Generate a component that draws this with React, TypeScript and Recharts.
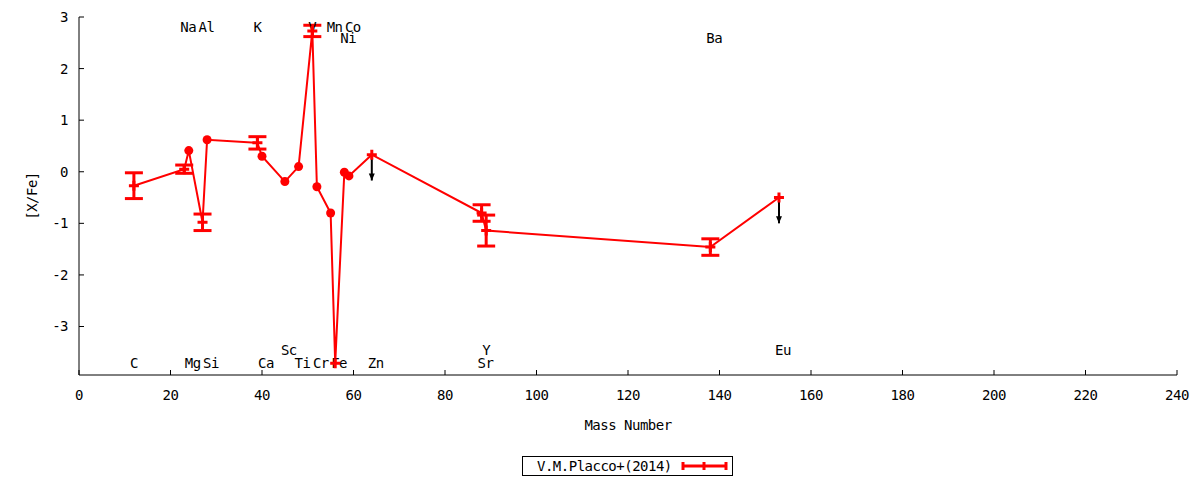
import React from 'react';
import {
  ComposedChart,
  Line,
  Scatter,
  ErrorBar,
  XAxis,
  YAxis,
} from 'recharts';

const RED = '#ff0000';
const FONT = '"DejaVu Sans Mono", monospace';

// abundance pattern, ordered by mass number
const elements = ['C', 'Na', 'Mg', 'Al', 'Si', 'K', 'Ca', 'Sc', 'Ti', 'V', 'Cr', 'Mn', 'Fe', 'Ni', 'Co', 'Zn', 'Sr', 'Y', 'Ba', 'Eu'];
const massNumbers = [12, 23, 24, 27, 28, 39, 40, 45, 48, 51, 52, 55, 56, 58, 59, 64, 88, 89, 138, 153];
const xFe = [-0.27, 0.05, 0.41, -0.98, 0.62, 0.56, 0.3, -0.19, 0.1, 2.73, -0.29, -0.8, -3.71, -0.01, -0.08, 0.33, -0.8, -1.14, -1.46, -0.5];
const xFeErr = [0.25, 0.08, null, 0.16, null, 0.12, null, null, null, 0.11, null, null, null, null, null, null, 0.16, 0.3, 0.16, null];
const plusMarker = [true, true, false, true, false, true, false, false, false, true, false, false, true, false, false, true, true, true, true, true];
const upperLimit = [false, false, false, false, false, false, false, false, false, false, false, false, false, false, false, true, false, false, false, true];
const limitArrow = 0.5;

// element name labels
const labelNames = ['Na', 'Al', 'K', 'V', 'Mn', 'Co', 'Ni', 'Ba', 'C', 'Mg', 'Si', 'Ca', 'Sc', 'Ti', 'Cr', 'Fe', 'Zn', 'Sr', 'Y', 'Eu'];
const labelMass = [23, 27, 39, 51, 55, 59, 58, 138, 12, 24, 28, 40, 45, 48, 52, 56, 64, 88, 89, 153];
const labelY = [2.8, 2.8, 2.8, 2.8, 2.8, 2.8, 2.6, 2.6, -3.7, -3.7, -3.7, -3.7, -3.45, -3.7, -3.7, -3.7, -3.7, -3.7, -3.45, -3.45];

const xTicks = [0, 20, 40, 60, 80, 100, 120, 140, 160, 180, 200, 220, 240];
const yTicks = [-3, -2, -1, 0, 1, 2, 3];

const points = elements.map((el, i) => ({
  name: el,
  mass: massNumbers[i],
  value: xFe[i],
  err: xFeErr[i],
  plus: plusMarker[i],
}));

const limits = elements
  .map((el, i) => ({ name: el, mass: massNumbers[i], tip: xFe[i] - limitArrow, shaft: [0, limitArrow], up: upperLimit[i] }))
  .filter((d) => d.up);

const labels = labelNames.map((n, i) => ({ name: n, mass: labelMass[i], y: labelY[i] }));

const tickStyle = { fontFamily: FONT, fontSize: 14, fill: '#000', letterSpacing: -0.5 };

const renderPoint = (props: any) => {
  const { cx, cy, payload, index } = props;
  if (cx == null || cy == null) return <g key={index} />;
  if (payload.plus) {
    return (
      <path
        key={index}
        d={`M${cx - 5},${cy}H${cx + 5}M${cx},${cy - 5}V${cy + 5}`}
        stroke={RED}
        strokeWidth={3}
        fill="none"
      />
    );
  }
  return <circle key={index} cx={cx} cy={cy} r={4.5} fill={RED} />;
};

const renderArrowHead = (props: any) => {
  const { cx, cy, index } = props;
  if (cx == null || cy == null) return <g key={index} />;
  return <path key={index} d={`M${cx - 3},${cy - 7}L${cx + 3},${cy - 7}L${cx},${cy}Z`} fill="#000" />;
};

const renderLabel = (props: any) => {
  const { cx, cy, payload } = props;
  return (
    <text
      x={cx - 4}
      y={cy}
      dominantBaseline="central"
      textAnchor="start"
      fontFamily={FONT}
      fontSize={14}
      letterSpacing={-0.5}
      fill="#000"
    >
      {payload.name}
    </text>
  );
};

const LegendBox = () => (
  <div
    style={{
      position: 'absolute',
      left: 522,
      top: 456,
      width: 209,
      height: 18,
      border: '1px solid #000',
      fontFamily: FONT,
      fontSize: 14,
      letterSpacing: -0.5,
      display: 'flex',
      alignItems: 'center',
      background: '#fff',
    }}
  >
    <span style={{ marginLeft: 14, lineHeight: '18px' }}>V.M.Placco+(2014)</span>
    <svg width={48} height={18} style={{ marginLeft: 9 }}>
      <line x1={2} y1={9} x2={45} y2={9} stroke={RED} strokeWidth={3} />
      <line x1={2} y1={5} x2={2} y2={13} stroke={RED} strokeWidth={3} />
      <line x1={45} y1={5} x2={45} y2={13} stroke={RED} strokeWidth={3} />
      <line x1={23} y1={5} x2={23} y2={13} stroke={RED} strokeWidth={3} />
    </svg>
  </div>
);

export default function App() {
  return (
    <div style={{ position: 'absolute', left: 0, top: 0, width: 1200, height: 480, background: '#fff' }}>
      <ComposedChart width={1200} height={480} margin={{ top: 17, right: 23, bottom: 75, left: 0 }}>
        <XAxis
          xAxisId="main"
          type="number"
          dataKey="mass"
          domain={[0, 240]}
          ticks={xTicks}
          allowDataOverflow
          height={30}
          tickSize={-5}
          tickMargin={20}
          tick={tickStyle}
          axisLine={{ stroke: '#000' }}
          tickLine={{ stroke: '#000' }}
          label={{
            content: (p: any) => (
              <text
                x={p.viewBox.x + p.viewBox.width / 2}
                y={p.viewBox.y + 50}
                textAnchor="middle"
                dominantBaseline="central"
                fontFamily={FONT}
                fontSize={14}
                letterSpacing={-0.5}
              >
                Mass Number
              </text>
            ),
          }}
        />
        <XAxis
          xAxisId="top"
          orientation="top"
          type="number"
          dataKey="mass"
          domain={[0, 240]}
          ticks={xTicks}
          allowDataOverflow
          height={0}
          tickSize={-5}
          tick={false}
          axisLine={{ stroke: '#000' }}
          tickLine={{ stroke: '#000' }}
        />
        <YAxis
          yAxisId="main"
          type="number"
          domain={[-3.94, 3]}
          ticks={yTicks}
          allowDataOverflow
          width={79}
          tickSize={-5}
          tickMargin={16}
          tick={tickStyle}
          axisLine={{ stroke: '#000' }}
          tickLine={{ stroke: '#000' }}
          label={{
            content: (p: any) => (
              <text
                x={p.viewBox.x + 32}
                y={p.viewBox.y + p.viewBox.height / 2}
                textAnchor="middle"
                dominantBaseline="central"
                fontFamily={FONT}
                fontSize={14}
                letterSpacing={-0.5}
                transform={`rotate(-90 ${p.viewBox.x + 32} ${p.viewBox.y + p.viewBox.height / 2})`}
              >
                [X/Fe]
              </text>
            ),
          }}
        />
        <YAxis
          yAxisId="right"
          orientation="right"
          type="number"
          domain={[-3.94, 3]}
          ticks={yTicks}
          allowDataOverflow
          width={0}
          tickSize={-5}
          tick={false}
          axisLine={{ stroke: '#000' }}
          tickLine={{ stroke: '#000' }}
        />
        <Scatter
          xAxisId="main"
          yAxisId="main"
          data={labels}
          dataKey="y"
          shape={renderLabel}
          isAnimationActive={false}
        />
        <Line
          xAxisId="main"
          yAxisId="main"
          data={limits}
          dataKey="tip"
          stroke="none"
          dot={renderArrowHead}
          activeDot={false}
          isAnimationActive={false}
        >
          <ErrorBar dataKey="shaft" direction="y" width={0} stroke="#000" strokeWidth={2} />
        </Line>
        <Line
          xAxisId="main"
          yAxisId="main"
          data={points}
          dataKey="value"
          type="linear"
          stroke={RED}
          strokeWidth={2}
          dot={renderPoint}
          activeDot={false}
          isAnimationActive={false}
        >
          <ErrorBar dataKey="err" direction="y" width={9} stroke={RED} strokeWidth={3} />
        </Line>
      </ComposedChart>
      <LegendBox />
    </div>
  );
}
